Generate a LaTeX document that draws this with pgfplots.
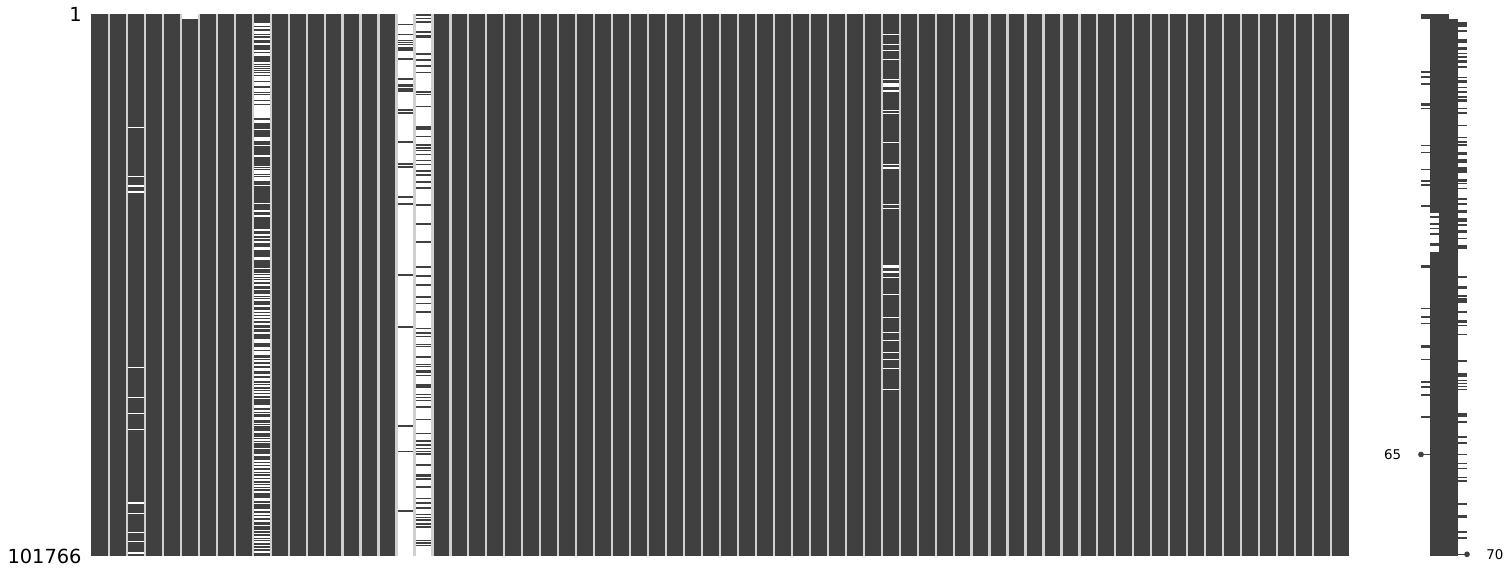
\documentclass[border=0pt]{standalone}
\usepackage{pgfplots}
\pgfplotsset{compat=1.18}
\usepackage{fontspec}
\setmainfont{DejaVu Sans}
\definecolor{mdark}{RGB}{64,64,64}
\definecolor{msep}{RGB}{208,208,208}
\begin{document}
\begin{tikzpicture}
\useasboundingbox (0,0) rectangle (755pt,288pt);
\begin{axis}[
  at={(45.5pt,10pt)}, anchor=south west,
  scale only axis, width=629pt, height=271pt,
  xmin=-0.5, xmax=69.5, ymin=1, ymax=101766, y dir=reverse,
  axis background/.style={fill=mdark},
  axis on top,
  axis line style={draw=none},
  major tick length=0pt,
  xtick={0.5,1.5,...,68.5}, xticklabels={},
  xmajorgrids, grid style={draw=msep, line width=1.1pt},
  ytick={1,101766}, yticklabels={1,101766},
  yticklabel style={font=\fontsize{9.7pt}{11pt}\selectfont, inner sep=0pt, xshift=-4.5pt},
  /pgf/number format/assume math mode=true,
]
% missing entries (white)
\addplot[draw=none, mark=none, forget plot,
  error bars/.cd, y dir=both, y explicit, error mark=none,
  error bar style={draw=white, line width=9pt, line cap=butt}]
  table[x=c, y=r, y error=h] {
c r h
2 21273 95
2 30474 95
2 32238 95
2 33365 190
2 66336 95
2 71968 95
2 74973 95
2 77977 95
2 91758 95
2 93749 95
2 97316 95
2 99006 95
2 101146 95
5 470 470
17 50884 50884
18 50884 50884
9 1878 94
9 2122 94
9 2629 94
9 3248 94
9 3511 94
9 3999 94
9 4694 94
9 5727 188
9 6947 188
9 7510 94
9 7755 94
9 9257 188
9 9632 94
9 10008 94
9 10383 94
9 10759 94
9 11266 94
9 11773 94
9 12148 94
9 12449 140
9 12955 94
9 13331 94
9 14026 94
9 14458 94
9 14889 94
9 15396 94
9 15716 94
9 16016 94
9 16523 94
9 16767 94
9 17143 94
9 17405 94
9 17781 94
9 18156 94
9 18532 94
9 18908 94
9 19339 94
9 20034 94
9 20278 94
9 21649 94
9 23151 94
9 23414 94
9 23658 94
9 24653 94
9 26662 188
9 28633 140
9 29009 94
9 29422 94
9 29797 94
9 30286 94
9 30793 94
9 31168 94
9 32163 94
9 35543 94
9 36932 94
9 37928 94
9 40556 94
9 41495 94
9 42115 94
9 42753 94
9 43992 282
9 45870 282
9 47749 94
9 48686 94
9 49193 94
9 49625 94
9 50132 94
9 50883 94
9 51691 94
9 52761 94
9 53193 94
9 53699 94
9 54826 94
9 55709 94
9 56328 94
9 56835 94
9 57455 94
9 58206 94
9 59013 94
9 59858 216
9 61398 310
9 62768 310
9 63407 94
9 63838 94
9 64646 94
9 65153 94
9 65904 94
9 66523 94
9 66843 94
9 67781 94
9 68401 94
9 68720 94
9 69340 94
9 69847 94
9 70466 94
9 70917 94
9 71537 94
9 72158 94
9 73733 310
9 74485 94
9 74973 94
9 75912 310
9 76850 94
9 77226 94
9 78428 94
9 79479 94
9 79986 94
9 80418 94
9 81544 94
9 82802 94
9 83873 94
9 84492 94
9 84999 94
9 85750 94
9 86239 94
9 86877 94
9 87496 94
9 88116 94
9 88623 94
9 89055 94
9 89694 94
9 90933 94
9 91251 94
9 91871 94
9 93129 94
9 93880 94
9 94387 94
9 95138 94
9 95946 94
9 96886 94
9 97505 94
9 98143 94
9 98632 94
9 99082 94
9 99701 94
9 100321 94
9 100960 94
44 3812 94
44 5689 94
44 6816 94
44 8505 94
44 12261 94
44 13331 320
44 14458 94
44 18081 94
44 18645 94
44 24090 94
44 28220 94
44 28859 94
44 35731 94
44 36482 94
44 47374 254
44 48386 94
44 49437 94
44 52629 94
44 56948 94
44 59764 94
44 61266 94
44 63519 94
44 64834 94
44 66523 94
44 70466 94
};
% present entries in the sparse columns (dark)
\addplot[draw=none, mark=none, forget plot,
  error bars/.cd, y dir=both, y explicit, error mark=none,
  error bar style={draw=mdark, line width=9pt, line cap=butt}]
  table[x=c, y=r, y error=h] {
c r h
17 1934 94
17 3793 94
17 4957 94
17 5314 94
17 5652 94
17 6346 94
17 6684 94
17 8412 94
17 12204 94
17 13369 282
17 14063 94
17 14458 94
17 18025 94
17 18588 94
17 24033 94
17 28164 94
17 28727 188
17 34360 94
17 35674 94
17 49005 94
17 58713 94
17 77301 94
17 82126 94
17 93317 94
18 200 190
18 826 94
18 1558 188
18 3342 140
18 4074 94
18 4412 94
18 7510 140
18 8618 94
18 9764 140
18 10965 94
18 14608 94
18 15096 140
18 17368 94
18 21142 140
18 21574 94
18 22944 94
18 24597 94
18 25160 94
18 25629 94
18 26324 94
18 27488 94
18 28258 94
18 29422 94
18 30192 140
18 31487 94
18 32670 94
18 35825 94
18 39411 94
18 42903 188
18 47485 94
18 49193 94
18 50846 94
18 53061 94
18 54300 94
18 55952 94
18 59051 140
18 59820 94
18 60515 94
18 62036 94
18 62374 94
18 64364 94
18 65810 94
18 66148 94
18 67162 310
18 67801 94
18 69659 94
18 70014 94
18 71386 94
18 71950 94
18 72494 94
18 73733 94
18 76137 94
18 78691 94
18 80099 188
18 80907 94
18 81582 94
18 82145 94
18 82614 94
18 84680 94
18 86539 94
18 86821 94
18 87234 94
18 88810 94
18 90951 94
18 91777 94
18 92755 140
18 93974 94
18 94463 94
18 94932 94
18 95702 94
18 96321 94
18 98802 94
18 99288 94
18 99757 94
};
\end{axis}
% sparkline of row completeness
\begin{axis}[
  at={(710.5pt,10pt)}, anchor=south west,
  scale only axis, width=23pt, height=271pt,
  xmin=65, xmax=70, ymin=1, ymax=101766, y dir=reverse,
  hide axis, clip=false,
]
\addplot[fill=mdark, draw=none, forget plot] coordinates {(65,1) (68,1) (68,940) (65,940)};
\addplot[fill=mdark, draw=none, forget plot] coordinates {(67,940) (69,940) (69,101766) (67,101766)};
\addplot[fill=mdark, draw=none, forget plot] coordinates {(66,940) (67,940) (67,37364) (66,37364)};
\addplot[fill=mdark, draw=none, forget plot] coordinates {(66,44687) (67,44687) (67,101766) (66,101766)};
% short excursions of the completeness line
\addplot[draw=none, mark=none, forget plot,
  error bars/.cd, y dir=both, y explicit, error mark=none,
  error bar style={draw=mdark, line width=4.6pt, line cap=butt}]
  table[x=v, y=r, y error=h] {
v r h
66.5 38060 94
66.5 39430 94
66.5 40240 94
66.5 41345 160
66.5 43316 254
65.5 10853 160
65.5 11791 160
65.5 13181 160
65.5 17030 254
65.5 17706 94
65.5 24653 94
65.5 26005 160
65.5 29159 94
65.5 31318 160
65.5 32145 160
65.5 36050 94
65.5 47374 254
65.5 55258 94
65.5 56835 94
65.5 58075 94
65.5 62468 310
65.5 64834 94
65.5 69040 94
65.5 69977 94
65.5 71537 94
65.5 75611 94
65.5 82708 94
69.5 1934 440
69.5 3136 94
69.5 5126 376
69.5 6440 310
69.5 7379 94
69.5 8017 94
69.5 8956 310
69.5 9895 94
69.5 11885 94
69.5 12711 310
69.5 13763 94
69.5 14645 94
69.5 15528 94
69.5 16279 254
69.5 17706 94
69.5 18532 94
69.5 20898 94
69.5 23151 94
69.5 23977 94
69.5 24597 188
69.5 26155 310
69.5 27657 376
69.5 29291 620
69.5 31225 254
69.5 31788 94
69.5 32727 94
69.5 34773 160
69.5 35712 160
69.5 37120 310
69.5 38679 310
69.5 39617 94
69.5 40875 310
69.5 42115 94
69.5 43786 400
69.5 49325 94
69.5 51390 310
69.5 52911 160
69.5 53850 470
69.5 55896 94
69.5 57774 310
69.5 58395 94
69.5 60140 94
69.5 65153 94
69.5 67724 376
69.5 68814 94
69.5 69378 94
69.5 69941 94
69.5 70504 94
69.5 75293 310
69.5 76550 94
69.5 79366 94
69.5 80493 94
69.5 82671 94
69.5 84361 94
69.5 85300 94
69.5 87027 94
69.5 87684 94
69.5 92002 94
69.5 94387 310
69.5 97202 94
69.5 98331 94
69.5 101447 94
};
% minimum and maximum completeness
\addplot[only marks, mark=*, mark size=1.2pt, color=mdark, forget plot] coordinates {(65,82708) (70,101447)};
\node[anchor=east, inner sep=0pt, xshift=-9.7pt, font=\fontsize{6.7pt}{8pt}\selectfont] at (axis cs:65,82708) {65};
\node[anchor=west, inner sep=0pt, xshift=9.5pt, font=\fontsize{6.7pt}{8pt}\selectfont] at (axis cs:70,101447) {70};
\end{axis}
\end{tikzpicture}
\end{document}
